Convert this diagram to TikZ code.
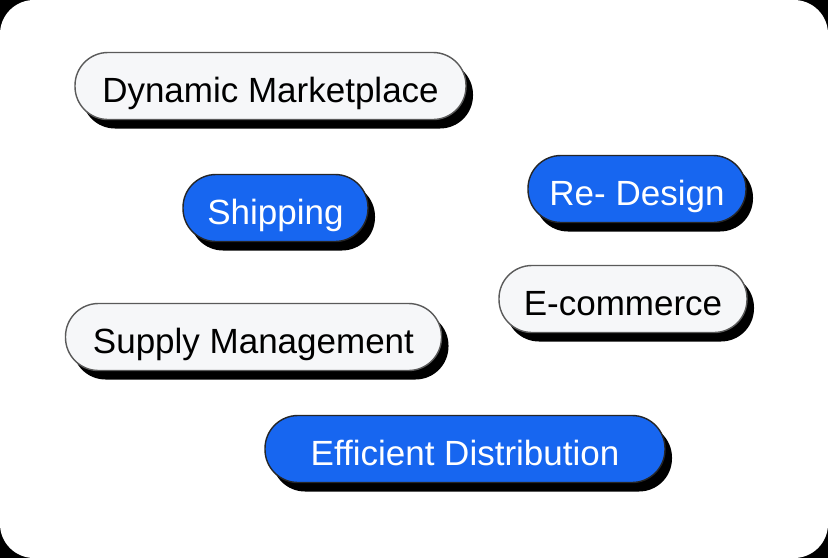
\documentclass[tikz,border=0pt]{standalone}
\usepackage{fontspec}
\setmainfont{Liberation Sans}
\usetikzlibrary{shadows}
\definecolor{tagblue}{HTML}{1766F0}
\definecolor{tagwhite}{HTML}{F6F7F9}
\definecolor{tagrim}{HTML}{5A5A5A}
\begin{document}
\begin{tikzpicture}[x=1pt, y=-1pt,
    tag/.style={rounded corners=33pt, minimum height=67pt, inner sep=0pt,
      text height=33pt, text depth=0pt,
      font=\fontsize{35}{40}\selectfont, line width=1.4pt,
      drop shadow={shadow xshift=7pt, shadow yshift=-9pt, opacity=1, fill=black}},
    plain tag/.style={tag, draw=tagrim, fill=tagwhite, text=black},
    blue tag/.style={tag, draw=black!85, fill=tagblue, text=white}]
      % background and card
      \fill[black] (0,0) rectangle (828,558);
      \fill[white, rounded corners=34pt] (0,0) rectangle (828,558);
      \useasboundingbox (0,0) rectangle (828,558);
      % tags
      \node[plain tag, minimum width=391pt] (market) at (270.5,86) {Dynamic Marketplace};
      \node[blue tag, minimum width=185pt] (shipping) at (275.5,208) {Shipping};
      \node[blue tag, minimum width=218pt] (redesign) at (637,189) {Re- Design};
      \node[plain tag, minimum width=248pt] (ecommerce) at (623,299) {E-commerce};
      \node[plain tag, minimum width=376pt] (supply) at (253.5,337) {Supply Management};
      \node[blue tag, minimum width=400pt] (distribution) at (465,449) {Efficient Distribution};
\end{tikzpicture}
\end{document}
